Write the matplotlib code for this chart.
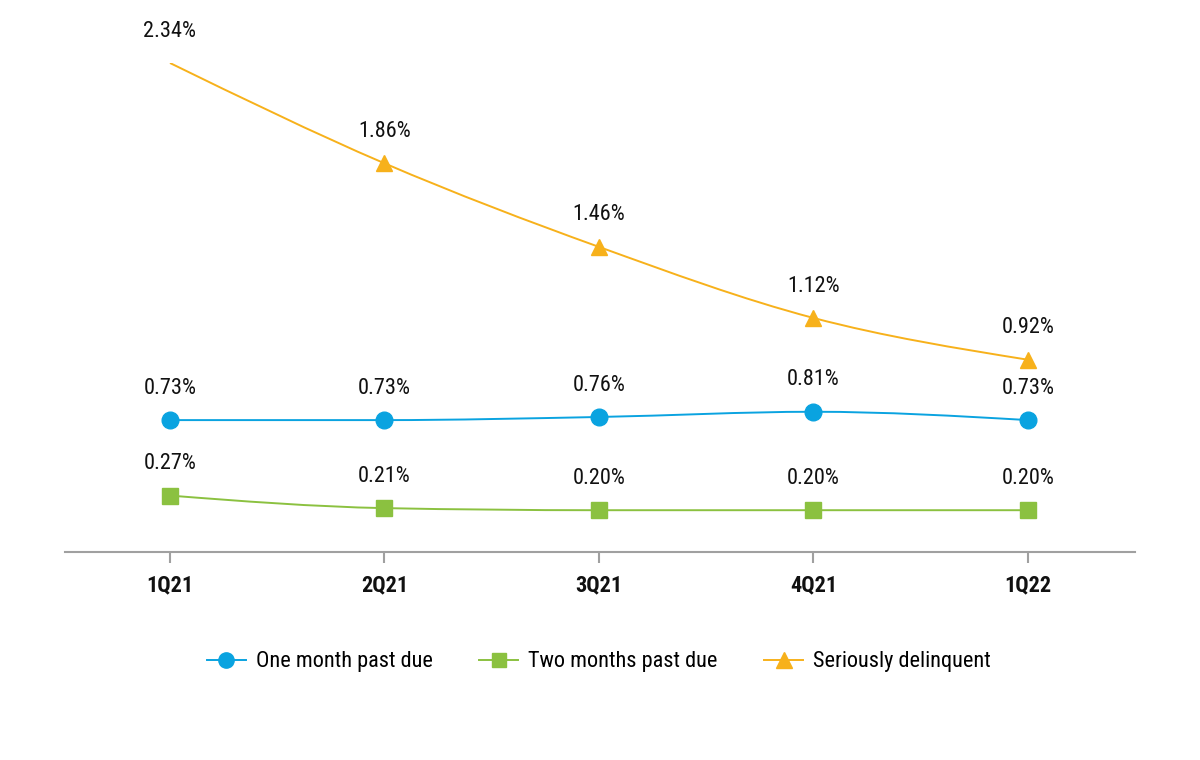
import numpy as np
import matplotlib
matplotlib.use("Agg")
import matplotlib.pyplot as plt
from matplotlib.path import Path
from matplotlib.patches import PathPatch
from matplotlib.lines import Line2D

quarters = ["1Q21", "2Q21", "3Q21", "4Q21", "1Q22"]
one_month = [0.73, 0.73, 0.76, 0.81, 0.73]
two_months = [0.27, 0.21, 0.20, 0.20, 0.20]
serious = [2.34, 1.86, 1.46, 1.12, 0.92]

BLUE = "#0aa3e0"
GREEN = "#8bc140"
YELLOW = "#f7b11b"

plt.rcParams["font.family"] = ["Roboto Condensed", "DejaVu Sans"]


def monotone_path(xs, ys):
    xs = np.asarray(xs, float)
    ys = np.asarray(ys, float)
    n = len(xs)
    h = np.diff(xs)
    s = np.diff(ys) / h
    t = np.zeros(n)
    for i in range(1, n - 1):
        if s[i - 1] * s[i] <= 0:
            t[i] = 0.0
        else:
            p = (s[i - 1] * h[i] + s[i] * h[i - 1]) / (h[i - 1] + h[i])
            t[i] = np.sign(s[i - 1]) * min(abs(s[i - 1]), abs(s[i]), 0.5 * abs(p)) * 2
    t[0] = (3 * s[0] - t[1]) / 2 if n > 2 else s[0]
    t[-1] = (3 * s[-1] - t[-2]) / 2 if n > 2 else s[-1]
    verts = [(xs[0], ys[0])]
    codes = [Path.MOVETO]
    for i in range(n - 1):
        dx = h[i] / 3
        verts += [(xs[i] + dx, ys[i] + t[i] * dx),
                  (xs[i + 1] - dx, ys[i + 1] - t[i + 1] * dx),
                  (xs[i + 1], ys[i + 1])]
        codes += [Path.CURVE4] * 3
    return Path(verts, codes)


fig = plt.figure(figsize=(12, 7.6), dpi=100)
ax = fig.add_axes([65 / 1200, (760 - 552) / 760, 1070 / 1200, (552 - 63) / 760])
ax2 = ax.twinx()
x = np.arange(len(quarters))

for a in (ax, ax2):
    a.set_xlim(-0.4895, 4.499)
    for sp in a.spines.values():
        sp.set_visible(False)
    a.set_yticks([])
    a.patch.set_visible(False)
ax.set_ylim(0, 2.34)
ax2.set_ylim(-0.538, 4.163)

ax.spines["bottom"].set_visible(True)
ax.spines["bottom"].set_color("#a0a0a0")
ax.spines["bottom"].set_linewidth(1.5)
ax.set_xticks(x)
ax.set_xticklabels(quarters, fontsize=16, fontweight="bold", color="#111111")
ax.tick_params(axis="x", length=8, width=1.5, color="#a0a0a0", pad=8)


def draw(a, vals, color, marker, ms, markevery=None):
    a.add_patch(PathPatch(monotone_path(x, vals), facecolor="none",
                          edgecolor=color, lw=1.4, zorder=2))
    a.plot(x, vals, linestyle="none", marker=marker, color=color,
           markersize=ms, markevery=markevery, zorder=3)
    for xi, v in zip(x, vals):
        a.annotate(f"{v:.2f}%", (xi, v), xytext=(0, 23), textcoords="offset points",
                   ha="center", va="center", fontsize=16, color="#111111",
                   annotation_clip=False)


draw(ax, serious, YELLOW, "^", 12, markevery=[1, 2, 3, 4])
draw(ax, two_months, GREEN, "s", 11)
draw(ax2, one_month, BLUE, "o", 12)

handles = [Line2D([], [], color=BLUE, marker="o", markersize=11, lw=1.4),
           Line2D([], [], color=GREEN, marker="s", markersize=10, lw=1.4),
           Line2D([], [], color=YELLOW, marker="^", markersize=11, lw=1.4)]
labels = ["One month past due", "Two months past due", "Seriously delinquent"]
fig.legend(handles, labels, loc="center", bbox_to_anchor=(599 / 1200, 1 - 662 / 760),
           ncol=3, frameon=False, fontsize=16, handlelength=1.75,
           columnspacing=2.1, handletextpad=0.45)

fig.savefig("out.png", dpi=100)
